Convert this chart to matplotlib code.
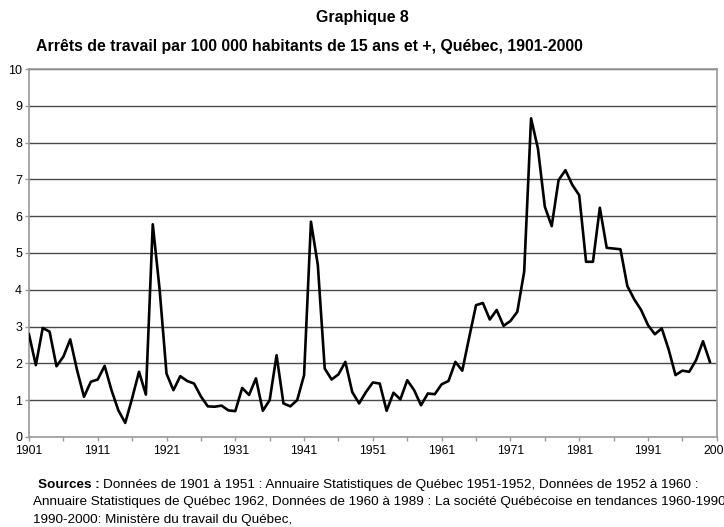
import matplotlib.pyplot as plt

plt.rcParams['font.family'] = ['Liberation Sans', 'DejaVu Sans']

years = list(range(1901, 2001))
arrets = [2.79, 1.95, 2.96, 2.86, 1.92, 2.18, 2.65, 1.81, 1.09, 1.50,
          1.56, 1.93, 1.27, 0.72, 0.38, 1.05, 1.77, 1.15, 5.78, 4.00,
          1.72, 1.27, 1.65, 1.52, 1.45, 1.10, 0.83, 0.82, 0.85, 0.72,
          0.70, 1.33, 1.14, 1.59, 0.71, 1.00, 2.22, 0.91, 0.83, 1.00,
          1.68, 5.85, 4.67, 1.86, 1.56, 1.70, 2.04, 1.22, 0.91, 1.22,
          1.48, 1.45, 0.71, 1.20, 1.02, 1.54, 1.27, 0.86, 1.18, 1.16,
          1.43, 1.52, 2.04, 1.80, 2.70, 3.58, 3.64, 3.19, 3.45, 3.02,
          3.15, 3.40, 4.49, 8.66, 7.84, 6.26, 5.73, 6.98, 7.25, 6.85,
          6.57, 4.76, 4.76, 6.23, 5.14, 5.12, 5.10, 4.10, 3.74, 3.45,
          3.04, 2.79, 2.95, 2.38, 1.68, 1.80, 1.77, 2.09, 2.60, 2.04]
xticks = list(range(1901, 2002, 10))

fig = plt.figure(figsize=(7.24, 5.27), dpi=100)
ax = fig.add_axes([0.040, 0.171, 0.950, 0.698])

for v in range(1, 11):
    ax.axhline(v, color='#4a4a4a', lw=1.0, zorder=1)
ax.plot(years, arrets, color='black', lw=1.9, zorder=3)

ax.set_xlim(1901, 2001)
ax.set_ylim(0, 10)
ax.set_yticks(range(0, 11))
ax.set_xticks(xticks)
ax.set_xticklabels([str(t) for t in xticks])
ax.set_xticks(list(range(1906, 2001, 10)), minor=True)
for s in ax.spines.values():
    s.set_color('#9a9a9a')
    s.set_linewidth(1.2)
ax.tick_params(axis='both', which='both', colors='#9a9a9a', labelcolor='black', length=3, width=1)
ax.tick_params(axis='x', labelsize=8.8, pad=2.5)
ax.tick_params(axis='y', labelsize=9, pad=2)

fig.text(0.5, 0.967, 'Graphique 8', ha='center', va='center', fontsize=11.4, fontweight='bold')
fig.text(0.428, 0.911, 'Arrêts de travail par 100 000 habitants de 15 ans et +, Québec, 1901-2000',
         ha='center', va='center', fontsize=11.4, fontweight='bold')

fs = 9.7
src = fig.text(0.053, 0.074, 'Sources :', fontsize=fs, va='baseline', fontweight='bold')
fig.canvas.draw()
bb = src.get_window_extent()
fig.text(bb.x1 / fig.bbox.width + 0.004, 0.074,
         'Données de 1901 à 1951 : Annuaire Statistiques de Québec 1951-1952, Données de 1952 à 1960 :',
         fontsize=fs, va='baseline')
fig.text(0.046, 0.041, 'Annuaire Statistiques de Québec 1962, Données de 1960 à 1989 : La société Québécoise en tendances 1960-1990',
         fontsize=fs, va='baseline')
fig.text(0.046, 0.008, '1990-2000: Ministère du travail du Québec,', fontsize=fs, va='baseline')

fig.savefig('out.png', dpi=100)
